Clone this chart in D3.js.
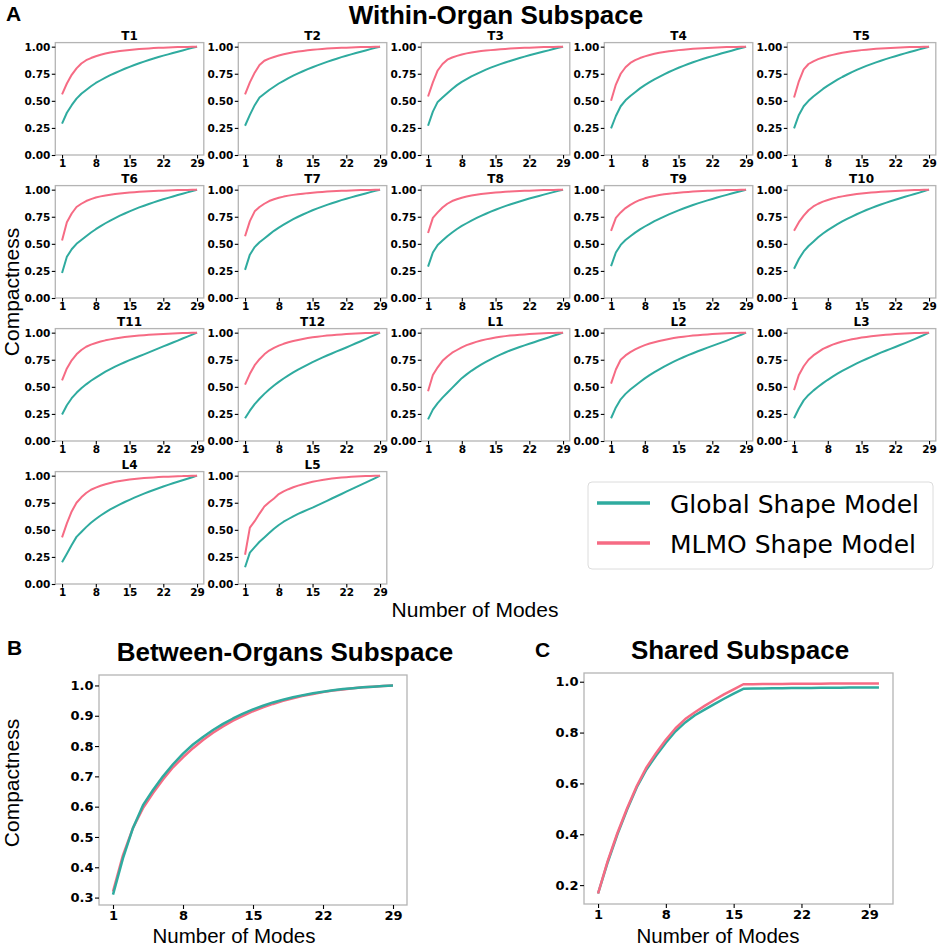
<!DOCTYPE html>
<html>
<head>
<meta charset="utf-8">
<script src="https://cdn.jsdelivr.net/npm/d3@7/dist/d3.min.js"></script>
<style>
  body { margin: 0; background: #fff; }
  text { font-family: "Liberation Sans", Arial, sans-serif; fill: #000; }
  .tick text { font-family: "DejaVu Sans", sans-serif; font-weight: bold; }
</style>
</head>
<body>
<div id="viz"></div>
<script>
// ---- data ----
var organs = ["T1", "T2", "T3", "T4", "T5", "T6", "T7", "T8", "T9", "T10",
              "T11", "T12", "L1", "L2", "L3", "L4", "L5"];

var modes = [1, 2, 3, 4, 5, 6, 7, 8, 9, 10, 11, 12, 13, 14, 15, 16, 17, 18, 19, 20,
             21, 22, 23, 24, 25, 26, 27, 28, 29];
var modesShared = [1, 2, 3, 4, 5, 6, 7, 8, 9, 10, 11, 12, 13, 14, 15, 16, 17, 18, 19, 20,
                   21, 22, 23, 24, 25, 26, 27, 28, 29, 30];

// Global shape model, within-organ subspace (one row per organ)
var globalWithin = [
  [.29,.39,.46,.52,.565,.60,.635,.665,.69,.715,.737,.757,.777,.796,.814,.831,.847,.862,.877,.891,.904,.917,.929,.941,.953,.965,.977,.989,1],
  [.27,.37,.46,.53,.565,.60,.63,.66,.685,.71,.732,.753,.773,.792,.81,.827,.844,.86,.875,.889,.903,.916,.929,.941,.953,.965,.977,.989,1],
  [.27,.40,.49,.53,.57,.61,.645,.675,.70,.725,.747,.768,.788,.806,.823,.839,.854,.868,.882,.895,.908,.92,.932,.944,.955,.966,.978,.989,1],
  [.245,.36,.45,.505,.545,.58,.615,.645,.672,.698,.722,.745,.766,.786,.805,.823,.84,.856,.871,.886,.9,.913,.926,.939,.951,.963,.976,.988,1],
  [.245,.37,.45,.50,.54,.575,.61,.64,.668,.695,.72,.743,.765,.785,.804,.822,.839,.855,.87,.885,.899,.912,.925,.938,.95,.963,.975,.988,1],
  [.23,.38,.45,.50,.535,.57,.605,.635,.663,.69,.715,.738,.76,.78,.80,.818,.836,.852,.868,.883,.897,.911,.924,.937,.95,.962,.975,.988,1],
  [.26,.40,.47,.515,.55,.585,.62,.65,.677,.703,.727,.75,.771,.791,.81,.827,.844,.86,.875,.889,.903,.916,.929,.941,.953,.965,.977,.989,1],
  [.29,.42,.49,.53,.57,.605,.637,.665,.69,.715,.737,.758,.778,.797,.815,.832,.848,.863,.877,.891,.905,.918,.93,.942,.954,.966,.977,.989,1],
  [.295,.42,.49,.535,.57,.603,.633,.66,.685,.709,.731,.752,.772,.791,.809,.826,.842,.858,.873,.887,.901,.914,.927,.94,.952,.964,.976,.988,1],
  [.27,.36,.43,.48,.52,.56,.595,.627,.655,.682,.707,.73,.752,.773,.793,.812,.83,.847,.863,.878,.893,.907,.921,.934,.947,.96,.973,.987,1],
  [.245,.33,.395,.445,.487,.523,.556,.585,.613,.64,.663,.686,.707,.727,.746,.764,.782,.80,.818,.837,.855,.873,.891,.909,.927,.946,.964,.982,1],
  [.21,.28,.34,.39,.435,.475,.512,.546,.577,.606,.633,.659,.683,.706,.728,.749,.769,.789,.808,.827,.845,.863,.882,.902,.921,.941,.961,.98,1],
  [.20,.29,.35,.40,.445,.49,.535,.58,.615,.648,.678,.705,.73,.754,.776,.797,.817,.835,.852,.868,.883,.897,.912,.927,.942,.956,.971,.985,1],
  [.21,.31,.385,.435,.475,.51,.545,.578,.608,.636,.662,.687,.71,.732,.753,.773,.792,.81,.828,.845,.862,.878,.894,.91,.927,.945,.963,.981,1],
  [.21,.30,.375,.425,.465,.50,.534,.565,.594,.621,.647,.671,.694,.716,.737,.757,.777,.796,.815,.833,.851,.868,.886,.904,.922,.941,.96,.98,1],
  [.20,.28,.36,.435,.48,.525,.565,.60,.632,.661,.688,.712,.735,.757,.777,.797,.816,.834,.851,.868,.884,.9,.915,.93,.944,.958,.972,.986,1],
  [.155,.29,.34,.39,.43,.47,.51,.545,.575,.60,.625,.647,.667,.686,.705,.726,.747,.768,.789,.81,.831,.852,.873,.894,.915,.936,.957,.978,1]
];

// MLMO shape model, within-organ subspace
var mlmoWithin = [
  [.56,.66,.74,.80,.845,.875,.895,.912,.926,.937,.946,.953,.96,.965,.97,.974,.978,.981,.984,.987,.989,.991,.993,.995,.996,.997,.998,.999,1],
  [.56,.67,.76,.83,.87,.89,.905,.918,.93,.94,.948,.955,.961,.966,.971,.975,.979,.982,.985,.987,.989,.991,.993,.995,.996,.997,.998,.999,1],
  [.54,.67,.78,.84,.88,.90,.915,.928,.938,.946,.953,.959,.964,.968,.972,.976,.979,.982,.985,.987,.989,.991,.993,.995,.996,.997,.998,.999,1],
  [.50,.65,.75,.81,.85,.875,.895,.91,.923,.934,.943,.95,.957,.963,.968,.972,.976,.98,.983,.986,.988,.99,.992,.994,.996,.997,.998,.999,1],
  [.53,.68,.79,.84,.865,.885,.90,.913,.924,.934,.943,.95,.957,.963,.968,.972,.976,.98,.983,.986,.988,.99,.992,.994,.996,.997,.998,.999,1],
  [.53,.70,.78,.84,.87,.895,.913,.927,.938,.947,.954,.96,.965,.97,.974,.977,.98,.983,.985,.987,.989,.991,.993,.995,.996,.997,.998,.999,1],
  [.57,.71,.80,.84,.87,.895,.912,.925,.936,.945,.952,.958,.963,.968,.972,.976,.979,.982,.985,.987,.989,.991,.993,.995,.996,.997,.998,.999,1],
  [.60,.74,.79,.835,.87,.895,.912,.926,.937,.946,.953,.959,.964,.969,.973,.977,.98,.983,.985,.987,.989,.991,.993,.995,.996,.997,.998,.999,1],
  [.62,.74,.79,.83,.86,.885,.905,.92,.932,.942,.95,.957,.963,.968,.972,.976,.979,.982,.985,.987,.989,.991,.993,.995,.996,.997,.998,.999,1],
  [.62,.70,.76,.81,.845,.87,.89,.905,.918,.929,.938,.946,.953,.959,.964,.969,.973,.977,.98,.983,.986,.988,.99,.992,.994,.996,.997,.999,1],
  [.56,.67,.745,.80,.84,.87,.89,.905,.918,.929,.938,.946,.953,.959,.964,.969,.973,.977,.98,.983,.986,.988,.99,.992,.994,.996,.997,.999,1],
  [.52,.62,.70,.755,.80,.835,.86,.88,.897,.911,.923,.933,.942,.95,.957,.963,.968,.973,.977,.981,.984,.987,.99,.992,.994,.996,.997,.999,1],
  [.46,.61,.68,.74,.78,.815,.84,.865,.885,.90,.915,.927,.938,.947,.955,.962,.968,.973,.977,.981,.984,.987,.99,.992,.994,.996,.997,.999,1],
  [.53,.66,.75,.79,.82,.845,.867,.885,.90,.912,.923,.933,.942,.95,.957,.963,.968,.973,.977,.981,.984,.987,.99,.992,.994,.996,.997,.999,1],
  [.47,.61,.69,.75,.79,.82,.85,.87,.89,.905,.918,.929,.939,.947,.955,.961,.967,.972,.977,.981,.984,.987,.99,.992,.994,.996,.997,.999,1],
  [.43,.56,.67,.75,.80,.84,.87,.89,.907,.921,.933,.943,.951,.958,.964,.969,.974,.978,.981,.984,.987,.989,.991,.993,.995,.996,.998,.999,1],
  [.27,.52,.58,.65,.715,.755,.79,.83,.855,.875,.893,.908,.921,.933,.943,.952,.96,.967,.973,.978,.982,.986,.989,.992,.994,.996,.997,.999,1]
];

var globalBetween = [.31,.43,.53,.605,.655,.70,.74,.775,.805,.83,.853,.873,.891,.907,.921,.933,.944,.953,.961,.968,.974,.979,.984,.988,.991,.994,.996,.998,1];
var mlmoBetween = [.32,.44,.53,.595,.645,.69,.73,.763,.793,.82,.844,.865,.884,.90,.915,.928,.939,.949,.958,.966,.972,.978,.983,.987,.991,.994,.996,.998,1];

var globalShared = [.167,.29,.40,.497,.585,.655,.71,.76,.805,.84,.868,.89,.912,.933,.953,.972,.973,.973,.974,.974,.975,.975,.975,.976,.976,.976,.977,.977,.977,.977];
var mlmoShared = [.167,.295,.405,.502,.59,.663,.72,.772,.817,.853,.88,.905,.928,.95,.97,.99,.99,.991,.991,.991,.992,.992,.992,.992,.993,.993,.993,.993,.993,.993];

var xTicks = [1, 8, 15, 22, 29];
var yTicksWithin = [0, 0.25, 0.5, 0.75, 1.0];
var yTicksBetween = [0.3, 0.4, 0.5, 0.6, 0.7, 0.8, 0.9, 1.0];
var yTicksShared = [0.2, 0.4, 0.6, 0.8, 1.0];

var seriesNames = ["Global Shape Model", "MLMO Shape Model"];
var colGlobal = "#2fab9f", colMlmo = "#f66b84";

// ---- drawing ----
var svg = d3.select("#viz")
    .append("svg")
    .attr("width", 941)
    .attr("height", 945);

// pad the extent like matplotlib does (5 %)
function padded(lo, hi) {
    var m = (hi - lo) * 0.05;
    return [lo - m, hi + m];
}

function drawPanel(o) {
    var g = svg.append("g")
        .attr("transform", "translate(" + o.left + "," + o.top + ")");

    var x = d3.scaleLinear().domain(o.xDomain).range([0, o.width]);
    var y = d3.scaleLinear().domain(o.yDomain).range([o.height, 0]);

    g.append("rect")
        .attr("width", o.width)
        .attr("height", o.height)
        .attr("fill", "none")
        .attr("stroke", "#b4b4b4")
        .attr("stroke-width", 1.3);

    var ax = g.append("g")
        .attr("transform", "translate(0," + o.height + ")")
        .call(d3.axisBottom(x).tickValues(xTicks).tickFormat(d3.format("d"))
            .tickSize(o.tick).tickPadding(o.padX));
    var ay = g.append("g")
        .call(d3.axisLeft(y).tickValues(o.yTicks).tickFormat(d3.format(o.yFmt))
            .tickSize(o.tick).tickPadding(o.padY));
    [ax, ay].forEach(function (a) {
        a.select(".domain").remove();
        a.selectAll(".tick line").attr("stroke", "#000").attr("stroke-width", 1.1);
        a.selectAll(".tick text").attr("font-size", o.font);
    });

    var line = d3.line()
        .x(function (d) { return x(d[0]); })
        .y(function (d) { return y(d[1]); });

    o.series.forEach(function (s) {
        g.append("path")
            .datum(d3.zip(o.modes, s.values))
            .attr("fill", "none")
            .attr("stroke", s.color)
            .attr("stroke-width", o.lw)
            .attr("stroke-linejoin", "round")
            .attr("d", line);
    });

    if (o.title) {
        g.append("text")
            .attr("x", o.width / 2)
            .attr("y", -3)
            .attr("text-anchor", "middle")
            .style("font-family", "DejaVu Sans")
            .style("font-weight", "bold")
            .style("font-size", "12px")
            .text(o.title);
    }
}

// Panel A: small multiples
organs.forEach(function (name, i) {
    var col = i % 5, row = Math.floor(i / 5);
    drawPanel({
        left: 55.3 + col * 183, top: 42.6 + row * 143,
        width: 148.5, height: 112.4,
        xDomain: padded(1, 29), yDomain: [0, 1.0375],
        yTicks: yTicksWithin, yFmt: ".2f",
        modes: modes,
        series: [{values: globalWithin[i], color: colGlobal},
                 {values: mlmoWithin[i], color: colMlmo}],
        tick: 3.5, padX: 1, padY: 1.5, font: "10.5px", lw: 2,
        title: name
    });
});

// Panel B
drawPanel({
    left: 99, top: 675, width: 308, height: 230,
    xDomain: padded(1, 29),
    yDomain: padded(d3.min(globalBetween.concat(mlmoBetween)), d3.max(globalBetween.concat(mlmoBetween))),
    yTicks: yTicksBetween, yFmt: ".1f",
    modes: modes,
    series: [{values: mlmoBetween, color: colMlmo},
             {values: globalBetween, color: colGlobal}],
    tick: 4, padX: 1.5, padY: 1.5, font: "13px", lw: 2.5
});

// Panel C
drawPanel({
    left: 584, top: 673, width: 309, height: 231,
    xDomain: padded(1, 30),
    yDomain: padded(d3.min(globalShared.concat(mlmoShared)), d3.max(globalShared.concat(mlmoShared))),
    yTicks: yTicksShared, yFmt: ".1f",
    modes: modesShared,
    series: [{values: globalShared, color: colGlobal},
             {values: mlmoShared, color: colMlmo}],
    tick: 4, padX: 1.5, padY: 1.5, font: "13px", lw: 2.5
});

// headings and labels
function label(txt, x, y, size, weight, anchor, rotate) {
    var t = svg.append("text")
        .attr("x", x).attr("y", y)
        .attr("text-anchor", anchor || "start")
        .style("font-size", size + "px")
        .style("font-weight", weight || "normal")
        .text(txt);
    if (rotate) t.attr("transform", "rotate(-90," + x + "," + y + ")");
    return t;
}

label("A", 6, 21, 21, "bold");
label("Within-Organ Subspace", 496, 24, 26, "bold", "middle");
label("Compactness", 19, 292, 21, "normal", "middle", true);
label("Number of Modes", 475, 617, 21, "normal", "middle");

label("B", 7, 655, 21, "bold");
label("Between-Organs Subspace", 285, 661, 26, "bold", "middle");
label("Compactness", 19, 783, 21, "normal", "middle", true);
label("Number of Modes", 234, 942.5, 20.5, "normal", "middle");

label("C", 535, 657, 21, "bold");
label("Shared Subspace", 740, 659, 26, "bold", "middle");
label("Number of Modes", 718, 942.5, 20.5, "normal", "middle");

// legend
var legend = svg.append("g");
legend.append("rect")
    .attr("x", 588).attr("y", 482)
    .attr("width", 345).attr("height", 87)
    .attr("rx", 4)
    .attr("fill", "#fff")
    .attr("stroke", "#dcdcdc")
    .attr("stroke-width", 1);
[colGlobal, colMlmo].forEach(function (c, i) {
    legend.append("line")
        .attr("x1", 597).attr("x2", 650)
        .attr("y1", 503 + i * 40).attr("y2", 503 + i * 40)
        .attr("stroke", c)
        .attr("stroke-width", 3.5);
    legend.append("text")
        .attr("x", 670).attr("y", 513 + i * 40)
        .style("font-family", "DejaVu Sans")
        .style("font-size", "25px")
        .text(seriesNames[i]);
});
</script>
</body>
</html>
